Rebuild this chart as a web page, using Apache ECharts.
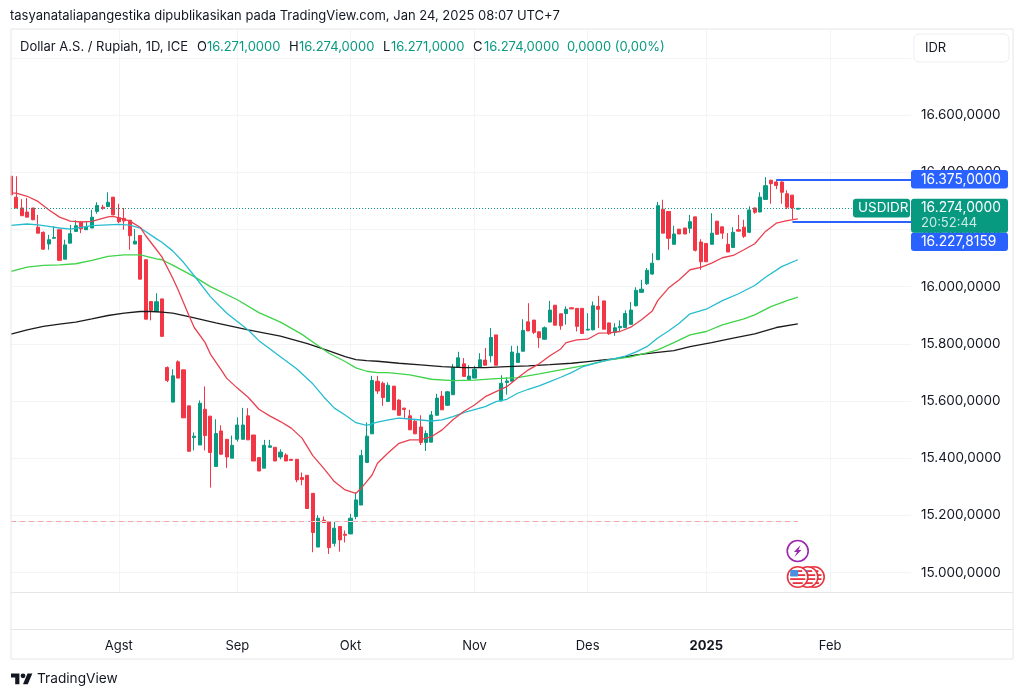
<!DOCTYPE html>
<html>
<head>
<meta charset="utf-8">
<title>USDIDR</title>
<script src="https://cdn.jsdelivr.net/npm/echarts@6/dist/echarts.min.js"></script>
<style>
  html, body { margin: 0; padding: 0; background: #fff; }
  #chart { width: 1024px; height: 698px; }
</style>
</head>
<body>
<div id="chart"></div>
<script>
// OHLC, bar by bar (index 0 = 4 Jul 2024, 146 = 24 Jan 2025)
var opens = [16386,16313,16275,16261,16275,16208,16190,16149,16169,16199,16096,16152,16193,16225,16199,16205,16263,16278,16280,16313,
  16241,16239,16232,16149,16179,16094,15948,15913,15957,15717,15596,15737,15709,15583,15472,15446,15571,15547,15371,15495,
  15466,15400,15466,15466,15548,15481,15402,15365,15438,15438,15404,15411,15396,15396,15332,15340,15277,15089,15183,15177,
  15102,15161,15134,15135,15196,15236,15385,15485,15669,15662,15598,15652,15603,15575,15548,15529,15509,15455,15456,15550,
  15617,15585,15622,15718,15730,15675,15680,15717,15743,15758,15831,15600,15665,15669,15735,15774,15877,15883,15842,15816,
  15876,15935,15905,15906,15926,15924,15924,15848,15849,15931,15950,15873,15840,15856,15857,15868,15933,15980,16010,16044,
  16094,16271,16263,16148,16201,16205,16204,16244,16156,16151,16148,16229,16209,16148,16137,16199,16208,16190,16275,16261,
  16305,16372,16366,16366,16325,16320,16271];
var closes = [16321,16275,16248,16243,16234,16187,16131,16164,16172,16092,16146,16185,16213,16202,16208,16243,16284,16274,16295,16251,
  16227,16230,16178,16159,16026,15886,15917,15947,15826,15672,15688,15680,15541,15424,15477,15592,15479,15420,15486,15414,
  15404,15445,15516,15516,15464,15390,15355,15445,15443,15390,15421,15390,15392,15324,15325,15224,15140,15190,15175,15087,
  15155,15114,15130,15190,15254,15409,15477,15672,15635,15612,15655,15569,15550,15570,15499,15485,15455,15486,15551,15610,
  15569,15632,15717,15751,15686,15687,15711,15744,15725,15822,15725,15662,15670,15771,15767,15847,15845,15840,15821,15856,
  15918,15865,15863,15921,15922,15861,15836,15851,15933,15921,15851,15835,15856,15861,15906,15918,15987,15991,16057,16082,
  16283,16187,16169,16184,16184,16184,16227,16127,16087,16087,16187,16183,16187,16121,16190,16194,16176,16268,16260,16313,
  16353,16360,16354,16330,16278,16275,16274];
var lows = [16321,16275,16248,16243,16232,16187,16129,16129,16169,16092,16096,16152,16193,16187,16199,16205,16255,16269,16278,16251,
  16222,16199,16129,16149,16026,15886,15882,15913,15826,15666,15596,15680,15541,15424,15427,15446,15427,15297,15371,15411,
  15366,15400,15458,15466,15464,15390,15355,15365,15438,15390,15396,15390,15392,15316,15305,15224,15071,15089,15175,15065,
  15091,15073,15105,15135,15186,15236,15385,15485,15625,15583,15598,15569,15548,15540,15499,15485,15446,15425,15456,15549,
  15569,15583,15622,15718,15686,15674,15680,15717,15725,15735,15725,15600,15622,15669,15735,15774,15845,15834,15786,15814,
  15876,15865,15849,15867,15922,15843,15836,15847,15847,15855,15851,15831,15828,15841,15855,15866,15931,15980,16006,16041,
  16094,16187,16129,16148,16184,16184,16187,16123,16059,16087,16148,16183,16167,16121,16135,16194,16170,16187,16255,16260,
  16305,16290,16341,16290,16271,16236,16271];
var highs = [16386,16386,16306,16310,16275,16251,16193,16181,16211,16199,16164,16216,16232,16228,16228,16269,16295,16286,16330,16313,
  16290,16275,16234,16201,16179,16094,15948,15977,15957,15721,15711,15742,15709,15583,15490,15602,15651,15547,15536,15515,
  15466,15479,15543,15576,15575,15481,15402,15464,15464,15438,15431,15417,15396,15397,15350,15340,15277,15201,15196,15177,
  15178,15161,15147,15205,15280,15429,15525,15688,15688,15668,15665,15652,15606,15576,15569,15534,15550,15497,15565,15625,
  15635,15635,15729,15772,15750,15725,15723,15767,15785,15855,15831,15690,15683,15793,15793,15886,15942,15883,15842,15861,
  15950,15935,15905,15931,15926,15924,15924,15907,15948,15968,15951,15874,15872,15882,15917,15946,15998,16024,16065,16117,
  16296,16304,16263,16213,16201,16205,16251,16244,16166,16151,16257,16230,16210,16187,16208,16251,16234,16281,16277,16330,
  16383,16374,16374,16368,16337,16321,16274];

// moving averages, read at the bars where the curve could be measured: [bar, price]
var ma20 = [[0,16327],[1,16327],[3,16316],[5,16298],[7,16269],[9,16243],[11,16229],[13,16226],[15,16228],[18,16244],[19,16246],[22,16230],
  [24,16207],[25,16178],[27,16129],[28,16104],[30,16030],[31,15989],[33,15900],[34,15857],[36,15805],[37,15764],[39,15709],[40,15680],
  [42,15645],[44,15613],[46,15571],[48,15548],[50,15528],[52,15505],[54,15470],[56,15409],[58,15365],[60,15318],
  [62,15289],[64,15277],[65,15295],[66,15318],[67,15341],[68,15382],[70,15419],[72,15452],[74,15464],[76,15464],[78,15475],[80,15499],
  [82,15534],[84,15563],[86,15586],[88,15615],[90,15633],[92,15650],[94,15680],[96,15709],[98,15730],[100,15758],[102,15782],[103,15804],
  [105,15814],[107,15816],[109,15837],[111,15838],[113,15843],[115,15858],[117,15884],[119,15915],[120,15951],[122,15995],[124,16024],
  [126,16059],[128,16067],[130,16082],[132,16101],[134,16109],[136,16129],[138,16150],[140,16193],[142,16222],[144,16231],[146,16237]];
var ma50 = [[0,16214],[3,16219],[5,16216],[7,16211],[9,16205],[11,16201],[13,16207],[15,16213],[18,16216],[20,16218],[22,16215],[24,16205],
  [27,16167],[28,16155],[30,16125],[32,16085],[34,16038],[37,15965],[40,15908],[44,15848],[46,15811],[50,15755],[53,15713],
  [56,15660],[58,15615],[60,15575],[62,15551],[64,15524],[66,15515],[68,15526],[70,15534],[72,15540],[74,15537],[78,15530],
  [80,15534],[82,15545],[84,15559],[88,15580],[90,15598],[92,15606],[94,15627],[96,15641],[98,15653],[100,15668],[102,15683],[104,15699],
  [106,15719],[108,15730],[110,15740],[112,15748],[114,15757],[116,15772],[118,15790],[120,15820],[122,15845],[124,15872],[126,15905],
  [129,15921],[132,15951],[135,15975],[138,16004],[140,16033],[143,16070],[146,16094]];
var ma100 = [[0,16053],[3,16068],[6,16074],[9,16076],[12,16080],[15,16092],[18,16106],[21,16111],[24,16111],[27,16097],[28,16094],[30,16075],
  [32,16055],[34,16035],[37,16000],[42,15954],[46,15909],[50,15876],[54,15833],[57,15793],[59,15767],[62,15738],
  [64,15716],[66,15704],[68,15699],[70,15699],[74,15691],[78,15676],[82,15671],[86,15673],[90,15678],[94,15682],[98,15695],[102,15709],
  [104,15716],[107,15726],[111,15744],[115,15754],[118,15768],[120,15779],[123,15804],[126,15831],[129,15843],[132,15866],[136,15887],
  [138,15901],[141,15930],[144,15951],[146,15963]];
var ma200 = [[0,15834],[3,15849],[6,15861],[9,15869],[12,15876],[15,15887],[18,15899],[21,15907],[24,15913],[26,15913],[28,15911],[30,15907],
  [33,15895],[38,15873],[44,15849],[50,15827],[55,15801],[59,15775],[62,15755],[64,15745],
  [66,15741],[68,15739],[72,15732],[76,15726],[80,15720],[84,15717],[88,15717],[92,15720],[96,15723],[100,15727],[104,15732],[107,15738],
  [110,15744],[112,15747],[116,15761],[120,15770],[123,15776],[126,15790],[130,15804],[134,15820],[138,15835],[142,15857],[146,15870]];

var lastPrice = 16274;
var highMark = 16375;
var lowMark = 16227.8159;
var prevLine = 15180;

// month labels by bar index
var monthTicks = { 20: 'Agst', 42: 'Sep', 63: 'Okt', 86: 'Nov', 107: 'Des', 129: '2025', 152: 'Feb' };

var BAR_COUNT = 168;
var categories = [];
(function () {
  var d = new Date(Date.UTC(2024, 6, 4));
  while (categories.length < BAR_COUNT) {
    var wd = d.getUTCDay();
    if (wd !== 0 && wd !== 6) categories.push(d.toISOString().slice(0, 10));
    d = new Date(d.getTime() + 86400000);
  }
})();

var UP = '#089981', DOWN = '#f23645', BLUE = '#2962ff', GRID = '#f3f4f6', FRAME = '#e4e6ea', TEXT = '#131722';
var FONT = 'Inter, "Noto Sans", sans-serif';

function fmtPrice(v) {
  var s = v.toFixed(4).split('.');
  return s[0].replace(/\B(?=(\d{3})+$)/g, '.') + ',' + s[1];
}

var ohlc = opens.map(function (o, i) { return [o, closes[i], lows[i], highs[i]]; });

function maLine(name, data, color) {
  return {
    name: name, type: 'line', data: data, showSymbol: false, silent: true,
    lineStyle: { color: color, width: 1.3 }, z: 4, clip: true
  };
}

var chart = echarts.init(document.getElementById('chart'), null, { renderer: 'canvas' });

var option = {
  animation: false,
  backgroundColor: '#fff',
  grid: [
    { left: 11, width: 900, top: 57.9, height: 571.8 },
    { left: 11, width: 900, top: 29, height: 563 }
  ],
  xAxis: [
    {
      type: 'category', gridIndex: 0, data: categories, boundaryGap: false,
      axisLine: { lineStyle: { color: FRAME } }, axisTick: { show: false },
      splitLine: { show: false },
      axisLabel: {
        margin: 10, color: TEXT, fontFamily: FONT, fontSize: 13,
        interval: function (i) { return monthTicks[i] != null; },
        formatter: function (v, i) {
          var t = monthTicks[i];
          return t === '2025' ? '{b|2025}' : t;
        },
        rich: { b: { fontWeight: 'bold', fontFamily: FONT, fontSize: 13, color: TEXT } }
      }
    },
    {
      type: 'category', gridIndex: 1, data: categories, boundaryGap: false,
      axisLine: { lineStyle: { color: FRAME } }, axisTick: { show: false }, axisLabel: { show: false },
      splitLine: {
        show: true, lineStyle: { color: GRID },
        interval: function (i) { return monthTicks[i] != null; }
      }
    }
  ],
  yAxis: [
    {
      type: 'value', gridIndex: 0, position: 'right', min: 14800, max: 16800, interval: 200, scale: true,
      axisLine: { show: false }, axisTick: { show: false },
      splitLine: { lineStyle: { color: GRID } },
      axisLabel: {
        margin: 10, align: 'left', color: TEXT, fontFamily: FONT, fontSize: 13.5,
        showMinLabel: false, showMaxLabel: false, formatter: function (v) { return fmtPrice(v); }
      }
    },
    { type: 'value', gridIndex: 1, show: false, min: 0, max: 1 }
  ],
  series: [
    maLine('EMA200', ma200, '#1c1c1c'),
    maLine('EMA100', ma100, '#3fd34a'),
    maLine('EMA50', ma50, '#26bcd0'),
    maLine('EMA20', ma20, '#e8414f'),
    {
      name: 'USDIDR', type: 'candlestick', data: ohlc, barWidth: 3.6, z: 3,
      itemStyle: { color: UP, color0: DOWN, borderColor: UP, borderColor0: DOWN, borderWidth: 1 },
      markLine: {
        silent: true, symbol: 'none', animation: false, label: { show: false },
        data: [
          [{ coord: [0, lastPrice], lineStyle: { color: UP, type: [1, 2], width: 1 } }, { coord: [156, lastPrice] }],
          [{ coord: [142, highMark], lineStyle: { color: BLUE, type: 'solid', width: 2 } }, { coord: [167, highMark] }],
          [{ coord: [145, lowMark], lineStyle: { color: BLUE, type: 'solid', width: 2 } }, { coord: [167, lowMark] }],
          // pale teal base with the pink dashes on top
          [{ coord: [0, prevLine], lineStyle: { color: '#dff0ec', type: 'solid', width: 1 } }, { coord: [146, prevLine] }],
          [{ coord: [0, prevLine], lineStyle: { color: '#f7a3ac', type: [5, 4], width: 1 } }, { coord: [146, prevLine] }]
        ]
      }
    }
  ]
};
chart.setOption(option);

function txt(x, y, s, color, size, extra) {
  return {
    type: 'text', x: x, y: y, z: 30,
    style: Object.assign({ text: s, fill: color, font: (size || 13) + 'px ' + FONT, textVerticalAlign: 'middle' }, extra || {})
  };
}

// price tags on the right; the tag centre comes from the axis scale, shift moves it off the price when tags stack
function priceTag(price, text, bg, shift, label2) {
  var y = chart.convertToPixel({ yAxisIndex: 0 }, price) + (shift || 0);
  var h = label2 ? 34 : 18.6;
  var out = [
    { type: 'rect', z: 29, shape: { x: 911, y: y - 9.5, width: 97, height: h, r: 3 }, style: { fill: bg } },
    txt(921, y, text, '#fff', 13.8)
  ];
  if (label2) out.push(txt(921, y + 15, label2, 'rgba(255,255,255,0.8)', 13));
  return out;
}

// small event badge with a flag
function flagBadge(cx, cy) {
  var r = 10.2, kids = [
    { type: 'circle', shape: { cx: cx, cy: cy, r: r }, style: { fill: '#fff', stroke: '#e8333f', lineWidth: 1.6 } }
  ];
  [[-6, 9], [-2, 15], [2, 15], [6, 10]].forEach(function (s) {
    kids.push({ type: 'rect', shape: { x: cx - s[1] / 2, y: cy + s[0] - 0.8, width: s[1], height: 1.8 }, style: { fill: '#e8333f' } });
  });
  kids.push({ type: 'rect', shape: { x: cx - 7.5, y: cy - 7, width: 8, height: 6.5, r: 1 }, style: { fill: '#4a90e2' } });
  return { type: 'group', z: 20, children: kids };
}

var lastY = chart.convertToPixel({ yAxisIndex: 0 }, lastPrice);
var lowY = chart.convertToPixel({ yAxisIndex: 0 }, lowMark);

var elements = [
  // the first candle is cut by the pane edge
  { type: 'rect', z: 20, silent: true, shape: { x: 0, y: 30, width: 10.5, height: 629 }, style: { fill: '#fff' } },
  // outer frame and the box of the currency button
  { type: 'rect', z: 21, silent: true, shape: { x: 11, y: 29, width: 1002, height: 630 }, style: { fill: 'none', stroke: FRAME, lineWidth: 1 } },
  { type: 'line', z: 1, silent: true, shape: { x1: 911, y1: 592.5, x2: 1013, y2: 592.5 }, style: { stroke: FRAME } },
  { type: 'line', z: 1, silent: true, shape: { x1: 911, y1: 629.5, x2: 1013, y2: 629.5 }, style: { stroke: FRAME } },
  { type: 'rect', z: 28, shape: { x: 914, y: 34, width: 95, height: 28, r: 5 }, style: { fill: '#fff', stroke: '#eceef1', lineWidth: 1 } },
  txt(925, 48, 'IDR', TEXT, 13),

  txt(10, 16, 'tasyanataliapangestika dipublikasikan pada TradingView.com, Jan 24, 2025 08:07 UTC+7', TEXT, 13),

  txt(20, 47, 'Dollar A.S. / Rupiah, 1D, ICE', TEXT, 13),
  txt(197, 47, 'O', TEXT, 13), txt(207, 47, '16.271,0000', UP, 13),
  txt(289, 47, 'H', TEXT, 13), txt(299, 47, '16.274,0000', UP, 13),
  txt(383, 47, 'L', TEXT, 13), txt(391, 47, '16.271,0000', UP, 13),
  txt(473, 47, 'C', TEXT, 13), txt(484, 47, '16.274,0000', UP, 13),
  txt(567, 47, '0,0000 (0,00%)', UP, 13),

  // USDIDR pill
  { type: 'rect', z: 29, shape: { x: 853, y: lastY - 9.5, width: 57, height: 18.6, r: 3 }, style: { fill: UP } },
  txt(858, lastY, 'USDIDR', '#fff', 13.5),

  // lightning event
  { type: 'circle', z: 22, shape: { cx: 797.7, cy: 551, r: 10.5 }, style: { fill: '#fff', stroke: '#9c27b0', lineWidth: 1.6 } },
  { type: 'polygon', z: 23, shape: { points: [[800.5, 545], [794, 552], [797, 552], [794.5, 557], [801.5, 550], [798.5, 550]] }, style: { fill: '#9c27b0' } },

  flagBadge(814, 577), flagBadge(807.7, 577), flagBadge(797.7, 577),

  // logo and wordmark
  {
    type: 'group', z: 30, x: 11, y: 671, scaleX: 0.6, scaleY: 0.6,
    children: [
      { type: 'polygon', shape: { points: [[14, 22], [7, 22], [7, 11], [0, 11], [0, 4], [14, 4]] }, style: { fill: TEXT } },
      { type: 'polygon', shape: { points: [[28, 22], [20, 22], [27.5, 4], [35.5, 4]] }, style: { fill: TEXT } },
      { type: 'circle', shape: { cx: 20, cy: 8, r: 4 }, style: { fill: TEXT } }
    ]
  },
  txt(37, 679, 'TradingView', TEXT, 13.7)
];
elements = elements
  .concat(priceTag(highMark, fmtPrice(highMark), BLUE))
  .concat(priceTag(lowMark, fmtPrice(lowMark), BLUE, lastY + 33.6 - lowY))
  .concat(priceTag(lastPrice, fmtPrice(lastPrice), UP, 0, '20:52:44'));

chart.setOption({ graphic: { elements: elements } });
</script>
</body>
</html>
